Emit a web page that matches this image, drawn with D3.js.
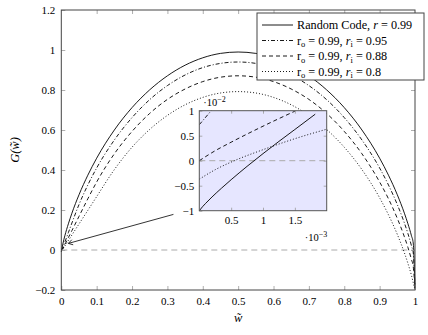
<!DOCTYPE html>
<html>
<head>
<meta charset="utf-8">
<script src="https://cdn.jsdelivr.net/npm/d3@7"></script>
<style>
body{margin:0;background:#fff;}
svg{display:block;font-family:"Liberation Serif","Times New Roman",serif;}
.tick text{font-size:11px;font-family:"Liberation Serif","Times New Roman",serif;fill:#000;}
.tick line{stroke:#999;stroke-width:0.8;}
</style>
</head>
<body>
<svg></svg>
<script>
//sample points along w (main plot)
var wValues = [0,0.005,0.01,0.02,0.03,0.05,0.075,0.1,0.15,0.2,0.25,0.3,0.35,0.4,0.45,0.5,
               0.55,0.6,0.65,0.7,0.75,0.8,0.85,0.9,0.925,0.95,0.97,0.98,0.99,0.995,1];
//G(w)
var randomCode = [-0.01,0.035,0.071,0.131,0.184,0.276,0.374,0.459,0.600,0.712,0.801,0.871,0.924,0.961,0.983,0.99,
                  0.983,0.961,0.924,0.871,0.801,0.712,0.600,0.459,0.374,0.276,0.184,0.131,0.071,0.035,-0.19];
var concat95 = [0.0,0.015,0.039,0.087,0.135,0.227,0.325,0.41,0.55,0.662,0.752,0.822,0.875,0.912,0.933,0.94,
                0.933,0.912,0.875,0.822,0.752,0.662,0.55,0.41,0.325,0.227,0.135,0.082,0.021,-0.014,-0.19];
var concat88 = [0.0,0.009,0.027,0.062,0.097,0.168,0.256,0.340,0.481,0.593,0.683,0.753,0.805,0.842,0.864,0.871,
                0.864,0.842,0.805,0.753,0.683,0.593,0.481,0.340,0.256,0.158,0.066,0.013,-0.048,-0.083,-0.19];
var concat80 = [-0.004,0.006,0.02,0.047,0.075,0.13,0.198,0.267,0.402,0.514,0.603,0.673,0.726,0.763,0.785,0.792,
                0.785,0.763,0.726,0.673,0.603,0.514,0.402,0.261,0.176,0.078,-0.014,-0.067,-0.127,-0.163,-0.2];

//inset (w in 1e-3, G in 1e-2)
var insetSolidW = [0,0.05,0.1,0.2,0.35,0.5,0.75,1,1.25,1.5,1.82];
var insetSolidG = [-1,-0.921,-0.853,-0.725,-0.548,-0.38,-0.113,0.141,0.386,0.624,0.93];
var insetDashDotW = [0,0.2];
var insetDashDotG = [0.72,1.02];
var insetDashedW = [0,0.25,0.5,1,1.5];
var insetDashedG = [0,0.2,0.37,0.69,0.99];
var insetDottedW = [0,0.25,0.55,1,1.5,2];
var insetDottedG = [-0.37,-0.18,0,0.22,0.44,0.63];

//ticks
var xTicks = [0,0.1,0.2,0.3,0.4,0.5,0.6,0.7,0.8,0.9,1];
var xTickLabels = ["0","0.1","0.2","0.3","0.4","0.5","0.6","0.7","0.8","0.9","1"];
var yTicks = [-0.2,0,0.2,0.4,0.6,0.8,1,1.2];
var yTickLabels = ["\u22120.2","0","0.2","0.4","0.6","0.8","1","1.2"];
var insetXTicks = [0.5,1,1.5];
var insetXTickLabels = ["0.5","1","1.5"];
var insetYTicks = [-1,-0.5,0,0.5,1];
var insetYTickLabels = ["\u22121","\u22120.5","0","0.5","1"];

//legend names
var legendItems = [
    {dash:null, parts:[["Random Code, ",""],["r","i"],[" = 0.99",""]]},
    {dash:"4,2,1,2", parts:[["r",""],["o","sub"],[" = 0.99, ",""],["r","i"],["i","sub"],[" = 0.95",""]]},
    {dash:"4,3", parts:[["r",""],["o","sub"],[" = 0.99, ",""],["r","i"],["i","sub"],[" = 0.88",""]]},
    {dash:"1,2", parts:[["r",""],["o","sub"],[" = 0.99, ",""],["r","i"],["i","sub"],[" = 0.8",""]]}
];

var screen = {width:428,height:335};
var margins = {left:61.3,right:13,top:10,bottom:45};
var graphDim = {
    width:screen.width-margins.left-margins.right,
    height:screen.height-margins.top-margins.bottom
};

var svg = d3.select("svg")
    .attr("width",screen.width)
    .attr("height",screen.height);

var xScale = d3.scaleLinear()
    .domain([0,1])
    .range([margins.left,margins.left+graphDim.width]);
var yScale = d3.scaleLinear()
    .domain([-0.2,1.2])
    .range([margins.top+graphDim.height,margins.top]);

//axes with inward ticks
var drawAxes = function()
{
    svg.append("g")
        .attr("transform","translate(0,"+(margins.top+graphDim.height)+")")
        .call(d3.axisBottom(xScale).tickValues(xTicks).tickSize(-4).tickPadding(7)
              .tickFormat(function(d,i){return xTickLabels[i];}))
        .call(function(g){g.select(".domain").remove();});
    svg.append("g")
        .attr("transform","translate(0,"+margins.top+")")
        .call(d3.axisTop(xScale).tickValues(xTicks.slice(1,-1)).tickSize(-4).tickFormat(""))
        .call(function(g){g.select(".domain").remove();});
    svg.append("g")
        .attr("transform","translate("+margins.left+",0)")
        .call(d3.axisLeft(yScale).tickValues(yTicks).tickSize(-4).tickPadding(6)
              .tickFormat(function(d,i){return yTickLabels[i];}))
        .call(function(g){g.select(".domain").remove();});
    svg.append("g")
        .attr("transform","translate("+(margins.left+graphDim.width)+",0)")
        .call(d3.axisRight(yScale).tickValues(yTicks.slice(1,-1)).tickSize(-4).tickFormat(""))
        .call(function(g){g.select(".domain").remove();});
}

var drawPlot = function()
{
    //gray zero line
    svg.append("line")
        .attr("x1",xScale(0)).attr("x2",xScale(1))
        .attr("y1",yScale(0)).attr("y2",yScale(0))
        .attr("stroke","#aaa").attr("stroke-width",1)
        .attr("stroke-dasharray","6,4");

    var series = [
        {vals:randomCode,dash:null},
        {vals:concat95,dash:"4,2,1,2"},
        {vals:concat88,dash:"4,3"},
        {vals:concat80,dash:"1,2"}
    ];
    series.forEach(function(s)
    {
        var line = d3.line()
            .x(function(d,i){return xScale(wValues[i]);})
            .y(function(d){return yScale(d);})
            .curve(d3.curveMonotoneX);
        svg.append("path")
            .datum(s.vals)
            .attr("d",line)
            .attr("fill","none")
            .attr("stroke","#000")
            .attr("stroke-width",0.9)
            .attr("stroke-dasharray",s.dash);
    });
}

var drawInset = function()
{
    var box = {left:199.3,right:326.7,top:110.7,bottom:210.7};
    var ix = d3.scaleLinear().domain([0,2]).range([box.left,box.right]);
    var iy = d3.scaleLinear().domain([-1,1]).range([box.bottom,box.top]);

    var inset = svg.append("g").classed("inset",true);

    svg.append("defs").append("clipPath").attr("id","insetClip")
        .append("rect")
        .attr("x",box.left).attr("y",box.top)
        .attr("width",box.right-box.left).attr("height",box.bottom-box.top);

    inset.append("rect")
        .attr("x",box.left).attr("y",box.top)
        .attr("width",box.right-box.left).attr("height",box.bottom-box.top)
        .attr("fill","rgb(230,230,255)");

    var body = inset.append("g").attr("clip-path","url(#insetClip)");
    body.append("line")
        .attr("x1",ix(0)).attr("x2",ix(2))
        .attr("y1",iy(0)).attr("y2",iy(0))
        .attr("stroke","#aaa").attr("stroke-width",1)
        .attr("stroke-dasharray","6,4");

    var insetSeries = [
        {w:insetSolidW,g:insetSolidG,dash:null},
        {w:insetDashDotW,g:insetDashDotG,dash:"4,2,1,2"},
        {w:insetDashedW,g:insetDashedG,dash:"4,3"},
        {w:insetDottedW,g:insetDottedG,dash:"1,2"}
    ];
    insetSeries.forEach(function(s)
    {
        var line = d3.line()
            .x(function(d,i){return ix(s.w[i]);})
            .y(function(d){return iy(d);})
            .curve(d3.curveMonotoneX);
        body.append("path")
            .datum(s.g)
            .attr("d",line)
            .attr("fill","none")
            .attr("stroke","#000")
            .attr("stroke-width",0.9)
            .attr("stroke-dasharray",s.dash);
    });

    inset.append("g")
        .attr("transform","translate(0,"+box.bottom+")")
        .call(d3.axisBottom(ix).tickValues(insetXTicks).tickSize(-3).tickPadding(6)
              .tickFormat(function(d,i){return insetXTickLabels[i];}))
        .call(function(g){g.select(".domain").remove();});
    inset.append("g")
        .attr("transform","translate(0,"+box.top+")")
        .call(d3.axisTop(ix).tickValues(insetXTicks).tickSize(-3).tickFormat(""))
        .call(function(g){g.select(".domain").remove();});
    inset.append("g")
        .attr("transform","translate("+box.left+",0)")
        .call(d3.axisLeft(iy).tickValues(insetYTicks).tickSize(-3).tickPadding(5)
              .tickFormat(function(d,i){return insetYTickLabels[i];}))
        .call(function(g){g.select(".domain").remove();});
    inset.append("g")
        .attr("transform","translate("+box.right+",0)")
        .call(d3.axisRight(iy).tickValues(insetYTicks.slice(1,-1)).tickSize(-3).tickFormat(""))
        .call(function(g){g.select(".domain").remove();});

    inset.append("rect")
        .attr("x",box.left).attr("y",box.top)
        .attr("width",box.right-box.left).attr("height",box.bottom-box.top)
        .attr("fill","none").attr("stroke","#555").attr("stroke-width",1);

    //scale factors
    var yf = inset.append("text").attr("x",box.left+4).attr("y",box.top-5)
        .attr("font-size",10.5);
    yf.append("tspan").text("\u00b710");
    yf.append("tspan").attr("dy",-4).attr("font-size",8).text("\u22122");
    var xf = inset.append("text").attr("x",box.right-22).attr("y",box.bottom+30)
        .attr("font-size",10.5);
    xf.append("tspan").text("\u00b710");
    xf.append("tspan").attr("dy",-4).attr("font-size",8).text("\u22123");
}

var drawArrow = function()
{
    var x1 = xScale(0.317), y1 = yScale(0.178);
    var x2 = xScale(0.02), y2 = yScale(0.033);
    svg.append("line")
        .attr("x1",x1).attr("y1",y1).attr("x2",x2).attr("y2",y2)
        .attr("stroke","#000").attr("stroke-width",0.8);
    var ang = Math.atan2(y1-y2,x1-x2);
    [0.55,-0.55].forEach(function(a)
    {
        svg.append("line")
            .attr("x1",x2).attr("y1",y2)
            .attr("x2",x2+5*Math.cos(ang+a)).attr("y2",y2+5*Math.sin(ang+a))
            .attr("stroke","#000").attr("stroke-width",0.8);
    });
}

var drawFrame = function()
{
    svg.append("rect")
        .attr("x",xScale(0)).attr("y",yScale(1.2))
        .attr("width",graphDim.width).attr("height",graphDim.height)
        .attr("fill","none").attr("stroke","#444").attr("stroke-width",1);
}

var drawLabels = function()
{
    svg.append("text")
        .attr("x",xScale(0.5)).attr("y",322)
        .attr("text-anchor","middle")
        .attr("font-size",12.5).attr("font-style","italic")
        .text("w\u0303");
    svg.append("g")
        .attr("transform","translate(19,"+yScale(0.5)+")")
        .append("text")
        .attr("text-anchor","middle")
        .attr("transform","rotate(-90)")
        .attr("font-size",12.5).attr("font-style","italic")
        .text("G(w\u0303)");
}

var drawLegend = function()
{
    var legend = svg.append("g").classed("legend",true);
    legend.append("rect")
        .attr("x",257).attr("y",13).attr("width",167).attr("height",67)
        .attr("fill","#fff").attr("stroke","#444").attr("stroke-width",1);
    var entries = legend.selectAll("g.entry")
        .data(legendItems)
        .enter()
        .append("g")
        .classed("entry",true)
        .attr("transform",function(d,i){return "translate(262,"+(25+i*15.5)+")";});
    entries.append("line")
        .attr("x1",0).attr("x2",31).attr("y1",0).attr("y2",0)
        .attr("stroke","#000").attr("stroke-width",0.9)
        .attr("stroke-dasharray",function(d){return d.dash;});
    entries.each(function(d)
    {
        var t = d3.select(this).append("text")
            .attr("x",35).attr("y",4)
            .attr("font-size",12.2);
        d.parts.forEach(function(p)
        {
            var ts = t.append("tspan").text(p[0]);
            if(p[1]=="i") ts.attr("font-style","italic");
            if(p[1]=="sub") ts.attr("font-size",8.5).attr("dy",2.5);
            else if(t.attr("data-sub")=="1") ts.attr("dy",-2.5);
            t.attr("data-sub",p[1]=="sub"?"1":"0");
        });
    });
}

drawPlot();
drawInset();
drawArrow();
drawAxes();
drawFrame();
drawLabels();
drawLegend();
</script>
</body>
</html>
